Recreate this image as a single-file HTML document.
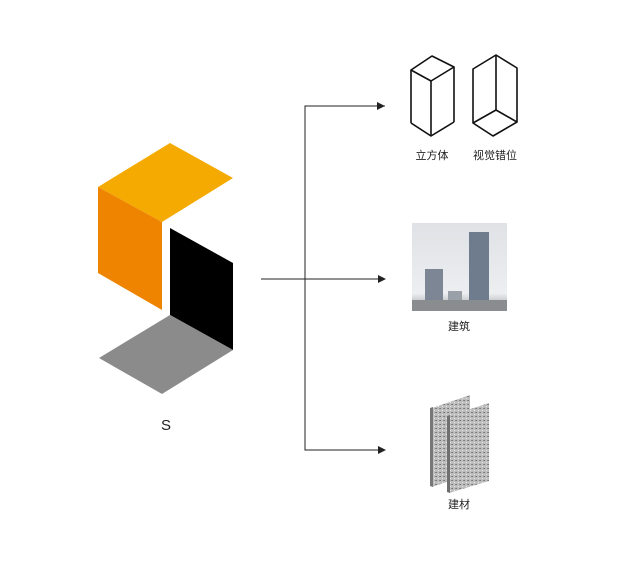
<!DOCTYPE html>
<html><head><meta charset="utf-8"><style>
body{margin:0;background:#fff;width:634px;height:569px;overflow:hidden}
svg text{font-family:"Liberation Sans","Noto Sans CJK SC",sans-serif;fill:#222}
</style></head><body>
<svg width="634" height="569" viewBox="0 0 634 569" xmlns="http://www.w3.org/2000/svg">
<defs>
<marker id="a" markerWidth="8" markerHeight="8" refX="7" refY="4" orient="auto" markerUnits="userSpaceOnUse"><path d="M0,0L8,4L0,8z" fill="#222"/></marker>
<linearGradient id="sky" x1="0" y1="0" x2="0" y2="1"><stop offset="0" stop-color="#dfe2e6"/><stop offset="0.8" stop-color="#eceef0"/><stop offset="1" stop-color="#9a9ea2"/></linearGradient>
<pattern id="gr" width="4" height="4" patternUnits="userSpaceOnUse"><rect width="4" height="4" fill="#bdbdbd"/><rect width="1" height="1" fill="#777"/><rect x="2" y="2" width="1" height="1" fill="#e8e8e8"/><rect x="3" y="0" width="1" height="1" fill="#888"/></pattern>
</defs>
<polygon points="98,187 170,143 233,178 162,222" fill="#f4aa00"/>
<polygon points="98,187 162,222 162,310 98,273" fill="#ef8400"/>
<polygon points="170,228 233,263 233,350 170,315" fill="#000"/>
<polygon points="170,315 233,350 162,394 99,358" fill="#8b8b8b"/>
<text x="166" y="430" font-size="15" text-anchor="middle">S</text>
<g stroke="#222" stroke-width="1" fill="none">
<line x1="261" y1="279" x2="385" y2="279" marker-end="url(#a)"/>
<polyline points="385,106 305,106 305,450 385,450" marker-end="url(#a)"/>
<line x1="305" y1="106" x2="384" y2="106" marker-end="url(#a)"/>
</g>
<g stroke="#111" stroke-width="1.6" fill="none" stroke-linejoin="round">
<polygon points="411,70 432,56 454,67 431,81"/>
<line x1="411" y1="70" x2="411" y2="123"/><line x1="431" y1="81" x2="431" y2="136"/><line x1="454" y1="67" x2="454" y2="122"/>
<polyline points="411,123 431,136 454,122"/>
<polygon points="473,69 496,55 517,68 517,122 493,136 473,123"/>
<polyline points="496,55 496,110 517,122"/><line x1="496" y1="110" x2="473" y2="123"/>
</g>
<text x="432" y="159" font-size="11" text-anchor="middle">立方体</text>
<text x="495" y="159" font-size="11" text-anchor="middle">视觉错位</text>
<rect x="412" y="223" width="95" height="88" fill="url(#sky)"/>
<rect x="425" y="269" width="18" height="38" fill="#7c8694"/>
<rect x="448" y="291" width="14" height="17" fill="#9aa0a8"/>
<rect x="469" y="232" width="20" height="76" fill="#6f7c8e"/>
<rect x="412" y="300" width="95" height="11" fill="#8a8d90"/>
<text x="459" y="330" font-size="11" text-anchor="middle">建筑</text>
<polygon points="432,408 470,395 470,474 432,487" fill="url(#gr)"/>
<polygon points="430,408 433,407 433,487 430,486" fill="#777"/>
<polygon points="449,416 489,403 489,481 449,493" fill="url(#gr)"/>
<polygon points="447,416 450,415 450,493 447,492" fill="#6f6f6f"/>
<text x="459" y="508" font-size="11" text-anchor="middle">建材</text>
</svg>
</body></html>
